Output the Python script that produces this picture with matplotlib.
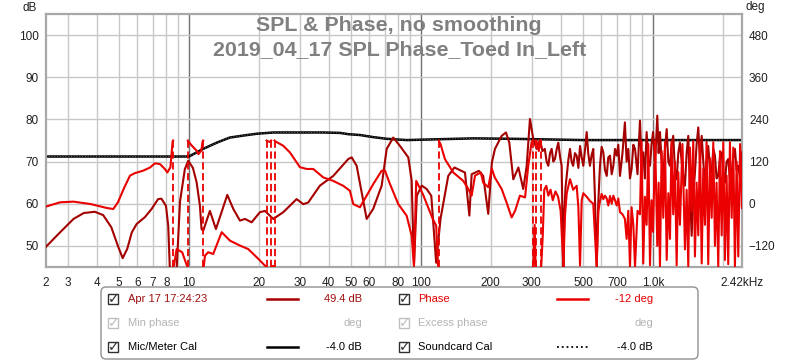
import matplotlib.pyplot as plt
from matplotlib.patches import FancyBboxPatch, Rectangle

plt.rcParams['font.family'] = ['Liberation Sans', 'DejaVu Sans']

title1 = "SPL & Phase, no smoothing"
title2 = "2019_04_17 SPL Phase_Toed In_Left"

# calibration curve (dB)
cal_freq = [2.42, 10.0, 11.5, 13.2, 15.0, 17.3, 19.6, 23.1, 27.2, 37.9, 44.8, 48.6,
            54.6, 62.3, 71.2, 86.8, 119.6, 168, 250, 500, 1000, 2420]
cal_db = [71.2, 71.2, 73.0, 74.5, 75.7, 76.2, 76.6, 76.9, 76.9, 76.9, 76.8, 76.5,
          76.3, 75.8, 75.4, 75.1, 75.3, 75.5, 75.4, 75.1, 75.1, 75.1]

# SPL measurement (dB)
spl_freq = [2.42, 2.78, 3.18, 3.52, 3.93, 4.27, 4.63, 4.94, 5.18, 5.42, 5.67, 5.95,
            6.45, 6.89, 7.36, 7.61, 7.96, 8.14, 8.28, 8.85, 9.15, 9.6, 9.93, 10.4,
            10.79, 11.15, 11.33, 11.52, 12.31, 13.07, 14.63, 15.52, 16.59, 17.43, 18.63,
            20.23, 21.26, 23.09, 25.5, 29.11, 31.1, 32.67, 36.69, 41.88, 48.6, 50.28,
            52.83, 58.34, 62.28, 67.72, 71.17, 75.98, 81.21, 88.18, 91.19, 93.3, 96.0,
            100.8, 105.8, 110.8, 116.3, 121.4, 131.1, 139.4, 154.8, 161.7, 165.4, 177.7,
            185.5, 195, 202.2, 208.4, 222.8, 232.5, 240.3, 250, 263, 276, 285.6, 295,
            305, 315, 326, 334, 342, 348, 354, 360, 366, 372, 378, 385, 391, 398, 404,
            408, 411, 415, 420, 425, 432, 439, 446, 453, 461, 469, 477, 485, 493, 501,
            510, 518, 526, 535, 544, 553, 562, 572, 581, 591, 601, 611, 621, 632, 642,
            653, 664, 675, 686, 698, 709, 721, 739, 757, 770, 783, 796, 809, 823, 837,
            858, 879, 893, 908, 923, 939, 955, 971, 986, 1001, 1022, 1044, 1058, 1072,
            1090, 1108, 1127, 1146, 1165, 1184, 1203, 1223, 1244, 1265, 1286, 1307, 1340,
            1374, 1397, 1420, 1444, 1468, 1492, 1517, 1542, 1568, 1595, 1622, 1648, 1675,
            1703, 1731, 1761, 1791, 1820, 1850, 1880, 1912, 1945, 1978, 2010, 2043, 2077,
            2111, 2147, 2184, 2220, 2256, 2294, 2332, 2375, 2420]
spl_db = [49.8, 53.2, 56.4, 57.8, 58.1, 57.3, 54.4, 50.0, 47.1, 49.3, 53.2, 55.2,
          56.8, 58.7, 61.1, 61.2, 59.5, 54.8, 44.0, 44.5, 60.5, 68.2, 70.2, 68.5,
          65.1, 59.5, 54.0, 53.6, 58.3, 54.0, 62.1, 58.8, 56.0, 56.4, 55.6,
          58.0, 58.3, 56.4, 58.0, 61.1, 59.9, 60.3, 64.3, 66.6, 70.6, 71.0,
          69.0, 56.4, 58.8, 64.3, 73.0, 75.7, 73.7, 71.0, 65.5, 45.3, 61.9,
          64.3, 63.5, 61.9, 46.0, 56.4, 66.6, 68.6, 67.4, 57.2, 67.0, 67.8,
          66.6, 57.6, 69.8, 73.0, 76.1, 76.9, 74.5, 65.8, 68.6, 63.5, 69.0, 80.1,
          75.3, 73.0, 75.2, 72.5, 73.0, 70.0, 69.0, 72.0, 73.0, 70.0, 70.6, 73.0, 74.5, 71.0, 69.0,
          55.0, 45.0, 58.0, 64.0, 66.6, 70.5, 73.0, 70.0, 69.0, 72.0, 71.4, 68.5, 73.7, 71.0, 69.0,
          73.0, 77.0, 72.0, 69.0, 71.5, 73.0, 62.0, 45.0, 60.0, 69.0, 73.5, 72.2, 68.0, 66.6, 71.0,
          71.4, 67.0, 69.0, 73.0, 71.4, 74.0, 66.6, 72.0, 79.3, 70.0, 73.0, 66.0, 68.2, 74.0, 73.0,
          67.0, 79.7, 70.0, 72.2, 66.0, 77.0, 70.0, 69.0, 74.0, 77.0, 70.0, 80.9, 72.0, 77.0,
          70.0, 66.6, 73.0, 77.7, 70.0, 69.0, 74.0, 76.1, 68.0, 65.8, 72.0, 74.5, 68.0,
          64.3, 72.0, 76.1, 63.0, 52.4, 62.0, 67.4, 74.0, 78.1, 70.0, 76.1, 70.0, 65.0,
          70.0, 73.7, 68.0, 67.4, 73.0, 71.4, 66.0, 66.6, 71.0, 72.2, 67.0, 65.0, 70.0,
          70.6, 66.0, 67.4, 71.0, 73.0, 68.0, 69.0, 66.0, 72.2]

# phase (deg, wrapped to +-180)
phase_freq = [2.42, 2.78, 3.18, 3.78, 4.42, 4.72, 4.94, 5.27, 5.57, 5.84, 6.34, 6.79,
              7.13, 7.5, 7.87, 8.07, 8.32, 8.5, 8.62, 8.85, 9.35, 9.77, 9.93, 10.3,
              10.79, 10.98, 11.3, 11.45, 11.6, 11.72, 12.1, 12.72, 13.84, 15.02, 16.59,
              18.01, 19.57, 21.26, 21.8, 22.4, 22.7, 23.2, 23.5, 25.5, 27.24, 30.09,
              32.16, 34.33, 37.92, 41.88, 46.25, 49.4, 51.08, 54.59, 58.34, 62.28, 67.72,
              69.97, 73.54, 79.85, 86.77, 91.19, 93.3, 94.3, 95.4, 102, 112.5, 116.3,
              118.5, 119.6, 121.4, 126.9, 137.8, 152.2, 160, 165.4, 171, 181.2, 185.5,
              195, 202, 208, 222.8, 233.8, 246, 254.6, 267, 281, 290, 300, 305, 309,
              312, 315, 322, 326, 330, 335, 340, 347, 354, 362, 370, 380, 390, 400, 411,
              418, 425, 439, 453, 469, 477, 485, 493, 501, 518, 535, 553, 572, 582, 591,
              601, 611, 621, 632, 642, 653, 664, 675, 686, 698, 709, 721, 739, 757, 770,
              783, 796, 809, 823, 837, 858, 879, 893, 908, 923, 939, 955, 971, 986, 1001,
              1022, 1044, 1058, 1072, 1090, 1108, 1127, 1146, 1165, 1184, 1203, 1223,
              1244, 1265, 1286, 1307, 1340, 1374, 1397, 1420, 1444, 1468, 1492, 1517,
              1542, 1568, 1595, 1622, 1648, 1675, 1703, 1731, 1761, 1791, 1820, 1850,
              1880, 1912, 1945, 1978, 2010, 2043, 2077, 2111, 2147, 2184, 2220, 2256,
              2294, 2332, 2375, 2420]
phase_deg = [-8, 4, 6, -1, -12, -15, 4, 47, 80, 87, 94, 103,
             115, 113, 99, 89, 104, 177, -175, -129, -138, -174, 178, 165,
             151, 141, 151, 177, -176, -148, -138, -143, -81, -105, -119,
             -129, -152, -176, 178, 176, -178, -177, 178, 165, 146, 104,
             99, 99, 75, 65, 51, 37, -1, -10, 23, 56, 94,
             94, 56, -1, -34, -91, -176, -60, 65, 27, -44, -62,
             -175, 178, 170, 127, 89, 65, 42, 23, 80, 89, 60,
             47, 100, 75, 42, 4, -39, -20, 23, 18, 108, 176, -178, -60,
             -178, 178, 150, 178, -178, -90, 40, 51, 23, 40, 10, 35, 20, -20, -178,
             -30, 30, 70, 40, 51, -10, -176, 10, 30, 20, 8, 0, -178, -20, 8,
             28, 13, 23, 15, -5, 22, 0, 23, 10, -5, 15, -24, -30, -43, -100,
             -20, -178, -10, -60, -178, -20, -30, 178, -170, 20, -60, 170, -175, 10, -80,
             178, -120, 60, -178, 150, -40, 175, -160, 30, -100, 178, -30,
             120, -175, 90, -60, 170, -130, 40, -178, 160, -20, 178, -150,
             60, -90, 175, -170, 100, -60, 176, -172, 130, -40, 175, -120,
             60, -178, 150, -90, 175, -160, 80, -172, 175, -40, 160, -178,
             120, -150, 170, -12]

xtick_vals = [2.42, 3, 4, 5, 6, 7, 8, 10, 20, 30, 40, 50, 60, 80, 100, 200, 300, 500, 700, 1000, 2420]
xtick_labels = ["2", "3", "4", "5", "6", "7", "8", "10", "20", "30", "40", "50", "60", "80",
                "100", "200", "300", "500", "700", "1.0k", "2.42kHz"]
minor_grid = [3, 4, 5, 6, 7, 8, 9, 20, 30, 40, 50, 60, 70, 80, 90,
              200, 300, 400, 500, 600, 700, 800, 900, 2000]
major_grid = [10, 100, 1000]
db_ticks = [50, 60, 70, 80, 90, 100]
deg_ticks = [-120, 0, 120, 240, 360, 480]

spl_color = "#a50000"
phase_color = "#ea0000"


def split_wrapped(freq, deg, limit=350):
    # cut the phase trace where it wraps from +180 to -180 (or back)
    segs, wraps = [], []
    xs, ys = [freq[0]], [deg[0]]
    for i in range(1, len(freq)):
        f0, f1, p0, p1 = freq[i - 1], freq[i], deg[i - 1], deg[i]
        if abs(p1 - p0) > limit:
            if p1 < p0:
                b, q = 180, p1 + 360
            else:
                b, q = -180, p1 - 360
            t = (b - p0) / (q - p0)
            fx = f0 * (f1 / f0) ** t
            xs.append(fx)
            ys.append(b)
            segs.append((xs, ys))
            wraps.append(fx)
            xs, ys = [fx], [-b]
        xs.append(f1)
        ys.append(p1)
    segs.append((xs, ys))
    return segs, wraps


fig = plt.figure(figsize=(8, 3.61), dpi=100)
ax = fig.add_axes([46 / 800, 94 / 361, 696 / 800, 253 / 361])
ax.set_xscale("log")
ax.set_xlim(2.42, 2420)
ax.set_ylim(45, 105)

for f in minor_grid:
    ax.axvline(f, color="#c8c8c8", lw=1, zorder=0)
for f in major_grid:
    ax.axvline(f, color="#707070", lw=1, zorder=0)
for d in db_ticks:
    ax.axhline(d, color="#c8c8c8", lw=1, zorder=0)

ax.set_xticks(xtick_vals)
ax.set_xticklabels(xtick_labels)
ax.xaxis.set_minor_locator(plt.NullLocator())
ax.set_yticks(db_ticks)
ax.tick_params(axis="both", length=0, labelsize=8.5, colors="#202020")
ax.tick_params(axis="x", pad=7)
ax.tick_params(axis="y", pad=5)
for s in ax.spines.values():
    s.set_color("#a8a8a8")
    s.set_linewidth(1.6)

ax.plot(cal_freq, cal_db, color="black", lw=1.8, zorder=2)
ax.plot(cal_freq, cal_db, color="#606060", lw=0.8, ls=(0, (1, 1.5)), zorder=2)
ax.plot(spl_freq, spl_db, color=spl_color, lw=1.5, zorder=3)

ax2 = ax.twinx()
ax2.set_ylim(-180, 540)
ax2.set_yticks(deg_ticks)
ax2.tick_params(axis="y", length=0, labelsize=8.5, colors="#202020", pad=5)
for s in ax2.spines.values():
    s.set_visible(False)

segs, wraps = split_wrapped(phase_freq, phase_deg)
for xs, ys in segs:
    ax2.plot(xs, ys, color=phase_color, lw=1.5, zorder=3)
for fx in wraps:
    ax2.plot([fx, fx], [-180, 180], color=phase_color, lw=1.3, ls=(0, (4, 2)), zorder=3)

fig.text(0.499, 0.928, title1, ha="center", va="center", fontsize=15.4,
         fontweight="bold", color="#808080")
fig.text(0.499, 0.864, title2, ha="center", va="center", fontsize=15.4,
         fontweight="bold", color="#808080")
fig.text(30 / 800, 1 - 8 / 361, "dB", ha="center", va="center", fontsize=8.5, color="#202020")
fig.text(755 / 800, 1 - 7 / 361, "deg", ha="center", va="center", fontsize=8.5, color="#202020")

# legend panel
lax = fig.add_axes([0, 0, 1, 1])
lax.set_xlim(0, 800)
lax.set_ylim(361, 0)
lax.axis("off")
lax.add_patch(FancyBboxPatch((101, 287), 597, 72, boxstyle="round,pad=0,rounding_size=5",
                             ec="#909090", fc="white", lw=1))


def checkbox(x, y, on_color):
    lax.add_patch(Rectangle((x, y - 5), 10, 10, ec=on_color, fc="white", lw=1))
    lax.text(x + 5.5, y, "\u2713", ha="center", va="center", fontsize=10,
             fontweight="bold", color=on_color, family="DejaVu Sans")


rows = [
    (299, "Apr 17 17:24:23", "#a01010", "49.4 dB", spl_color, "-",
     "Phase", "#e00000", "-12 deg", phase_color, "-"),
    (323, "Min phase", "#b4b4b4", "deg", None, None,
     "Excess phase", "#b4b4b4", "deg", None, None),
    (347, "Mic/Meter Cal", "black", "-4.0 dB", "black", "-",
     "Soundcard Cal", "black", "-4.0 dB", "black", ":"),
]
for y, t1, c1, v1, l1, s1, t2, c2, v2, l2, s2 in rows:
    box_col = "#303030" if c1 != "#b4b4b4" else "#c0c0c0"
    checkbox(108, y, box_col)
    checkbox(399, y, box_col)
    lax.text(128, y, t1, ha="left", va="center", fontsize=8, color=c1)
    lax.text(362, y, v1, ha="right", va="center", fontsize=8, color=c1)
    lax.text(418, y, t2, ha="left", va="center", fontsize=8, color=c2)
    lax.text(653, y, v2, ha="right", va="center", fontsize=8, color=c2)
    if l1:
        lax.plot([267, 298], [y, y], color=l1, lw=1.8, ls=s1)
    if l2:
        lax.plot([557, 588], [y, y], color=l2, lw=1.8 if s2 == "-" else 1.3, ls=s2)

fig.savefig("out.png", dpi=100)
